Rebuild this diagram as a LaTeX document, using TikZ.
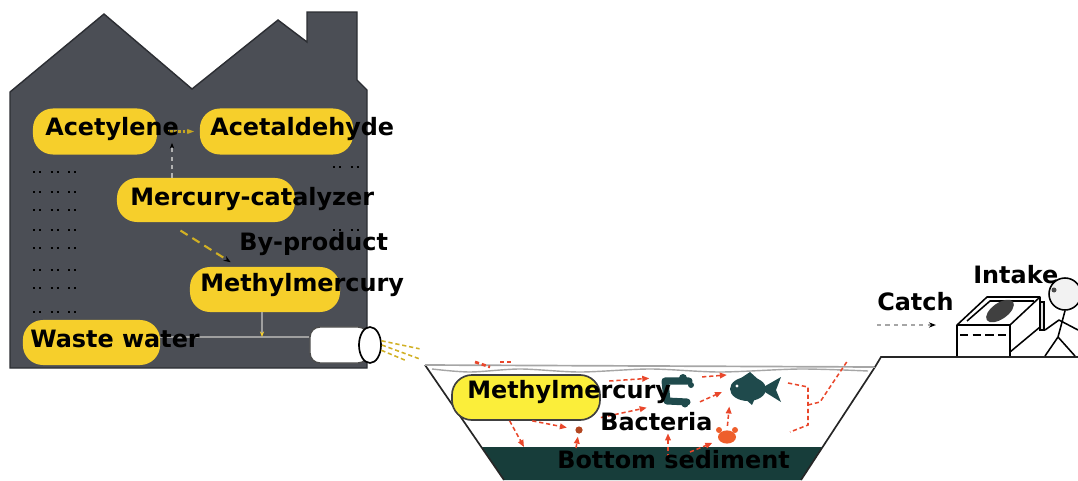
\documentclass[tikz,border=0pt]{standalone}
\usepackage{fontspec}
\setmainfont{DejaVu Sans}
\usetikzlibrary{positioning,arrows.meta,shapes.geometric}

\definecolor{plant}{HTML}{4B4E55}
\definecolor{plantedge}{HTML}{2C2E33}
\definecolor{amber}{HTML}{F6CF2B}
\definecolor{lemon}{HTML}{FBEE3A}
\definecolor{sediment}{HTML}{173D3A}
\definecolor{teal}{HTML}{1F4A4C}
\definecolor{flowred}{HTML}{E9472B}
\definecolor{crabred}{HTML}{EE5F2C}

\begin{document}
\begin{tikzpicture}[x=0.025cm,y=-0.025cm,>=Stealth]
  \tikzstyle{word}=[inner sep=0pt,anchor=base west,font=\fontsize{17}{20}\selectfont\bfseries]
  \tikzstyle{pill}=[fill=amber,rounded corners=0.5cm,inner sep=0pt,minimum height=1.15cm]
  \tikzstyle{window}=[black,line width=1.3pt,dash pattern=on 1.3pt off 3pt on 1.3pt off 7pt]
  \tikzstyle{duct}=[gray!75,line width=1pt]
  \tikzstyle{flow}=[flowred,line width=1.1pt,dash pattern=on 3pt off 2pt,-{Triangle[length=5pt,width=4pt]}]
  \tikzstyle{flowline}=[flowred,line width=1.1pt,dash pattern=on 3pt off 2pt]
  \tikzstyle{spray}=[amber!85!black,line width=1.1pt,dash pattern=on 3pt off 2pt]
  \tikzstyle{bank}=[black!85,line width=1.2pt]
  \tikzstyle{rim}=[gray!70,line width=1.2pt]
  \tikzstyle{creature}=[fill=teal]
  \tikzstyle{outline}=[black,line width=1.1pt,line join=round]

  \useasboundingbox (0,0) rectangle (1078,480);

  % factory building
  \fill[plant,draw=plantedge,line width=1pt] (10,368) -- (10,92) -- (104,14) -- (192,89)
    -- (278,20) -- (307,42) -- (307,12) -- (357,12) -- (357,80) -- (367,90) -- (367,368) -- cycle;
  \foreach \y in {172,192,210,230,248,270,288,312}
    \draw[window] (33,\y) -- (80,\y);
  \foreach \y in {167,230}
    \draw[window] (333,\y) -- (362,\y);

  % outlet pipe
  \node[fill=white,draw=black!70,line width=1pt,rounded corners=0.25cm,inner sep=0pt,
        minimum width=1.45cm,minimum height=0.9cm] (pipe body) at (339,345) {};
  \node[ellipse,fill=white,draw=black,line width=1.2pt,inner sep=0pt,
        minimum width=0.55cm,minimum height=0.9cm] (pipe mouth) at (370,345) {};
  \draw[spray] (pipe mouth.20) -- ++(38,8);
  \draw[spray] (pipe mouth.east) -- ++(38,14);
  \draw[spray] (pipe mouth.-25) -- ++(24,10);

  % process steps
  \node[pill,minimum width=3.1cm] (acetylene pill) at (95,131.5) {};
  \node[pill,minimum width=3.83cm] (acetaldehyde pill) at (276.5,131.5) {};
  \node[pill,minimum width=4.45cm,minimum height=1.1cm] (catalyzer pill) at (206,200) {};
  \node[pill,minimum width=3.75cm,minimum height=1.125cm] (methyl pill) at (265,289.5) {};
  \node[pill,minimum width=3.43cm,minimum height=1.125cm] (waste pill) at (91.5,342.5) {};

  \coordinate (split) at (172,133);
  \coordinate (drain) at (262,337);
  \draw[amber!80!black,line width=2pt,dash pattern=on 2pt off 1pt,-{Stealth[length=5pt]},
        shorten <=6pt,shorten >=4pt] (acetylene pill.east) -- (acetaldehyde pill.west);
  \draw[gray!60,line width=1pt,dashed,-{Stealth[length=4pt,color=black]},shorten >=7pt]
    (split |- catalyzer pill.north) -- (split);
  \draw[amber!85!black,line width=1.5pt,dash pattern=on 6pt off 4pt,-{Stealth[length=5pt,color=black]},
        shorten <=11pt,shorten >=6pt] (catalyzer pill.-150) -- (methyl pill.140);
  \draw[duct] (waste pill.east |- drain) -- (pipe body.west |- drain);
  \draw[duct,-{Stealth[length=4pt,color=amber]}] (methyl pill.south -| drain) -- (drain);

  \node[word] (acetylene) at (45,135) {Acetylene};
  \node[word] (acetaldehyde) at (210,135) {Acetaldehyde};
  \node[word] (catalyzer) at (130,205) {Mercury-catalyzer};
  \node[word] (byproduct) at (239,250) {By-product};
  \node[word] (methyl) at (200,291) {Methylmercury};
  \node[word] (waste) at (30,347) {Waste water};

  % pond and bottom sediment
  \fill[sediment] (482,447) -- (822,447) -- (801,480) -- (504,480) -- cycle;
  \draw[bank] (425,365) -- (504,480);
  \draw[bank] (875,367) -- (801,480);
  \draw[rim] (425,365) -- (875,367);
  \draw[rim,line width=1pt] plot[smooth] coordinates {(432,369) (470,372) (520,369) (580,372)
    (650,369) (720,372) (800,369) (868,371)};
  \draw[bank] (875,367) -- (881,357) -- (1078,357);

  \node[fill=lemon,draw=black!75,line width=1.2pt,rounded corners=0.5cm,inner sep=0pt,
        minimum width=3.7cm,minimum height=1.125cm] (pond pill) at (526,397.5) {};

  % bacteria, fish, crab
  \node[inner sep=0pt,minimum width=0.85cm,minimum height=0.675cm] (bug) at (675,391.5) {};
  \draw[teal,line width=5pt,line cap=round,line join=round]
    (689,381) -- (665,381) -- (667,401) -- (687,402);
  \fill[teal] (683,378) circle (4) (691,385) circle (3) (685,404) circle (3.5);
  \node[inner sep=0pt,minimum width=1.25cm,minimum height=0.675cm] (fish) at (755,388.5) {};
  \fill[creature] (748,389) ellipse [x radius=0.45cm,y radius=0.3cm];
  \fill[creature] (760,389) -- (781,377) -- (776,390) -- (781,402) -- cycle;
  \fill[creature] (738,380) -- (750,372) -- (760,381) -- cycle;
  \fill[creature] (744,398) -- (752,405) -- (756,396) -- cycle;
  \fill[white] (737,386) circle (1.6);
  \node[ellipse,fill=crabred,inner sep=0pt,minimum width=0.45cm,minimum height=0.33cm] (crab) at (727,437) {};
  \fill[crabred] (719,430) circle (3) (735,430) circle (3);
  \node[circle,fill=crabred!75!black,inner sep=0pt,minimum size=0.18cm] (speck) at (579,430) {};

  \coordinate (mud a) at (524,447);
  \coordinate (mud b) at (576,448);
  \coordinate (mud c) at (668,458);
  \coordinate (mud d) at (690,452);
  \coordinate (catch point) at (848,360);

  \draw[flow] (pond pill.-125) -- (mud a);
  \draw[flow,shorten >=6pt] (pond pill.-75) -- (speck);
  \draw[flow,shorten >=2pt] (mud b) -- (speck);
  \draw[flow,shorten <=6pt,shorten >=6pt] (pond pill.12) -- (bug.north west);
  \draw[flow,shorten >=8pt] (pond pill.-15) -- (bug.south west);
  \draw[flow,shorten <=7pt,shorten >=2pt] (bug.north east) -- (fish.north west);
  \draw[flow,shorten <=6pt,shorten >=6pt] (bug.south east) -- (fish.west);
  \draw[flow,shorten >=1pt] (mud c) -- (mud c |- 0,432);
  \draw[flow,shorten >=5pt] (mud d) -- (crab);
  \draw[flow,shorten <=3pt,shorten >=3pt] (crab.north) -- (fish.south west);
  \draw[flowline] (788,383) -- (808,387) -- (808,425) -- (790,432);
  \draw[flowline] (808,405) -- (820,402) -- (catch point);
  \draw[flowline,line width=2pt] (475,362) -- (490,367);
  \draw[flowline,line width=2pt] (500,362) -- (512,362);

  \node[word] (pond methyl) at (467,398) {Methylmercury};
  \node[word] (bacteria) at (600,430) {Bacteria};
  \node[word] (sediment) at (557,468) {Bottom sediment};

  % catch and intake
  \coordinate (table) at (957,325);
  \node[word] (catch) at (877,310) {Catch};
  \node[word] (intake) at (973,283) {Intake};
  \draw[gray!70,line width=1pt,dashed,-{Stealth[length=5pt,color=black]},shorten >=15pt]
    (catch.south west |- table) -- (table);
  \draw[outline,fill=white] (table) -- (987,297) -- (1040,297) -- (1010,325) -- cycle;
  \draw[outline] (967,321) -- (990,301) -- (1034,301);
  \draw[outline] (table) -- (957,356) (1010,325) -- (1010,356) (1040,297) -- (1040,327) -- (1010,352);
  \draw[outline,dash pattern=on 6pt off 3pt] (960,335) -- (1008,335);
  \fill[black!75] (1000,311) ellipse [x radius=0.4cm,y radius=0.2cm,rotate=35];
  \node[circle,draw=black,line width=1.1pt,fill=black!5,inner sep=0pt,minimum size=0.8cm] (head) at (1065,294) {};
  \fill[black!70] (1054,290) circle (2.5);
  \draw[outline] (head.south) -- (1058,337) -- (1045,356);
  \draw[outline] (1058,337) -- (1075,356);
  \draw[outline] (1045,330) -- (1059,320) -- (1078,330);
  \draw[black,fill=gray!25,line width=0.8pt] (1040,302) rectangle (1044,330);
\end{tikzpicture}
\end{document}
